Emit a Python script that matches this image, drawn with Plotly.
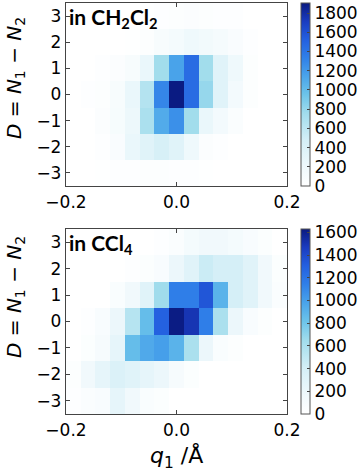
import numpy as np
import plotly.graph_objects as go

# bin centres: 15 q1 bins over [-0.2, 0.2], integer D rows
bin_w = 0.4 / 15
q1 = [round((i - 7) * bin_w, 4) for i in range(15)]
D = [-3, -2, -1, 0, 1, 2, 3]

# counts, rows from D=-3 (bottom) to D=3 (top)
z_ch2cl2 = [
    [0, 0, 10, 20, 30, 40, 40, 30, 20, 10, 0, 0, 0, 0, 0],
    [0, 0, 30, 80, 250, 350, 450, 350, 200, 50, 20, 0, 0, 0, 0],
    [0, 0, 50, 110, 220, 700, 1100, 1250, 750, 250, 150, 60, 0, 0, 0],
    [0, 20, 40, 100, 250, 650, 1300, 1900, 1450, 800, 350, 150, 40, 0, 0],
    [0, 0, 30, 50, 100, 250, 750, 1150, 1450, 750, 350, 200, 40, 0, 0],
    [0, 0, 0, 0, 10, 40, 100, 140, 200, 170, 130, 80, 20, 0, 0],
    [0, 0, 0, 0, 0, 10, 30, 40, 50, 40, 30, 20, 0, 0, 0],
]
z_ccl4 = [
    [20, 50, 80, 250, 150, 60, 40, 0, 0, 0, 0, 0, 0, 0, 0],
    [30, 150, 250, 350, 300, 250, 200, 100, 40, 0, 0, 0, 0, 0, 0],
    [0, 40, 100, 250, 850, 950, 1000, 900, 600, 200, 60, 30, 0, 0, 0],
    [0, 20, 80, 200, 550, 850, 1300, 1620, 1500, 1150, 600, 200, 80, 30, 0],
    [0, 0, 0, 60, 150, 300, 650, 1150, 1150, 1350, 900, 400, 300, 150, 50],
    [0, 0, 0, 0, 20, 40, 80, 200, 300, 450, 400, 400, 300, 150, 40],
    [0, 0, 0, 0, 0, 0, 20, 50, 120, 150, 150, 120, 80, 40, 0],
]

cscale = [
    [0.0, "#ffffff"], [0.1, "#f0f9fc"], [0.25, "#d4eff7"], [0.4, "#a0dcec"],
    [0.5, "#6cc4ea"], [0.6, "#4aa4ea"], [0.7, "#3080e8"], [0.8, "#2460e0"],
    [0.9, "#1a3cc0"], [1.0, "#0a1a80"],
]

W, H = 362, 474
def py(px):
    return 1 - px / H

font = "DejaVu Sans"
fig = go.Figure()

panels = [
    (z_ch2cl2, 1905, 3, 186, "x", "y"),
    (z_ccl4, 1630, 229, 414, "x2", "y2"),
]
for z, zmax, top, bot, xa, ya in panels:
    fig.add_trace(go.Heatmap(
        x=q1, y=D, z=z, xaxis=xa, yaxis=ya,
        colorscale=cscale, zmin=0, zmax=zmax,
        colorbar=dict(
            x=301 / W, xanchor="left", thickness=9,
            y=py(bot), yanchor="bottom", len=(bot - top) / H, lenmode="fraction",
            outlinecolor="#555", outlinewidth=1,
            tick0=0, dtick=200, ticks="inside", ticklen=3, tickcolor="#444",
            tickfont=dict(family=font, size=17, color="black"),
            xpad=0, ypad=0,
        ),
    ))

ax_style = dict(
    showline=True, mirror="ticks", linecolor="#444", linewidth=1.3,
    ticks="inside", ticklen=4, tickcolor="#444", showgrid=False, zeroline=False,
    tickfont=dict(family=font, size=17, color="black"), automargin=False,
)
xdom = [66 / W, 287 / W]
fig.update_layout(
    width=W, height=H, margin=dict(l=0, r=0, t=0, b=0, autoexpand=False),
    plot_bgcolor="white", paper_bgcolor="white", showlegend=False,
    xaxis=dict(domain=xdom, range=[-0.2, 0.2], tickvals=[-0.2, 0.0, 0.2],
               tickformat=".1f", anchor="y", **ax_style),
    yaxis=dict(domain=[py(186), py(3)], range=[-3.5, 3.5], dtick=1,
               anchor="x", **ax_style),
    xaxis2=dict(domain=xdom, range=[-0.2, 0.2], tickvals=[-0.2, 0.0, 0.2],
                tickformat=".1f", anchor="y2", **ax_style),
    yaxis2=dict(domain=[py(414), py(229)], range=[-3.5, 3.5], dtick=1,
                anchor="x2", **ax_style),
)

ylab = "<i>D</i> = <i>N</i><sub>1</sub> − <i>N</i><sub>2</sub>"
for yc in (78, 297):
    fig.add_annotation(text=ylab, xref="paper", yref="paper", x=15 / W, y=py(yc),
                       xanchor="center", yanchor="middle",
                       textangle=-90, showarrow=False,
                       font=dict(family=font, size=20, color="black"))
fig.add_annotation(text="<i>q</i><sub>1</sub> /Å", xref="paper", yref="paper",
                   x=176 / W, y=py(457), xanchor="center", yanchor="middle",
                   showarrow=False, font=dict(family=font, size=22, color="black"))
for txt, ytop in (("<b>in CH<sub>2</sub>Cl<sub>2</sub></b>", 2), ("<b>in CCl<sub>4</sub></b>", 228)):
    fig.add_annotation(text=txt, xref="paper", yref="paper", x=67 / W, y=py(ytop),
                       xanchor="left", yanchor="top", showarrow=False,
                       font=dict(family="Lato", size=21, color="black"))

# drop the browser's default 8px body margin so the figure sits at (0, 0)
fig.write_html("out.html", config={"displayModeBar": False},
               post_script="document.body.style.margin='0';")
